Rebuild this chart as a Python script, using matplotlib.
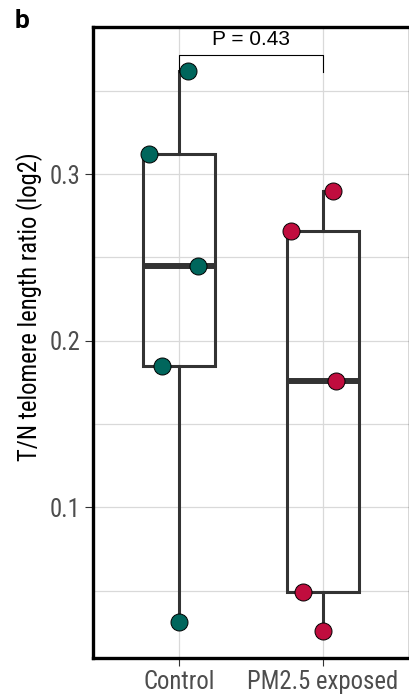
import numpy as np
import matplotlib
matplotlib.use("Agg")
import matplotlib.pyplot as plt
from matplotlib.ticker import MultipleLocator

plt.rcParams['font.family'] = ['Roboto Condensed', 'Liberation Sans Narrow', 'Roboto', 'DejaVu Sans']

# --- data ---
groups = ["Control", "PM2.5 exposed"]
control = [0.362, 0.312, 0.245, 0.185, 0.031]
pm25 = [0.290, 0.266, 0.176, 0.049, 0.026]
control_jitter = [0.06, -0.21, 0.13, -0.12, 0.0]
pm25_jitter = [0.07, -0.22, 0.09, -0.14, 0.0]
colors = ["#00665C", "#C00D3E"]
p_label = "P = 0.43"

fig = plt.figure(figsize=(4.09, 6.98), dpi=100)
ax = fig.add_axes([93 / 409, 1 - 657.7 / 698, 1 - 93 / 409, (657.7 - 26.7) / 698])

# grid like ggplot theme_bw
ax.set_axisbelow(True)
ax.yaxis.set_major_locator(MultipleLocator(0.1))
ax.yaxis.set_minor_locator(MultipleLocator(0.05))
ax.grid(True, which="major", color="#D9D9D9", lw=0.9)
ax.grid(True, which="minor", axis="y", color="#D9D9D9", lw=0.9)

# boxes
box_color = "#333333"
ax.boxplot([control, pm25], positions=[1, 2], widths=0.5, whis=(0, 100),
           showfliers=False, showcaps=False, patch_artist=True,
           boxprops=dict(facecolor="none", edgecolor=box_color, lw=2.2),
           whiskerprops=dict(color=box_color, lw=2.2),
           medianprops=dict(color=box_color, lw=4.3, solid_capstyle="butt"),
           zorder=2)

# points
for i, (vals, jit) in enumerate([(control, control_jitter), (pm25, pm25_jitter)]):
    x = np.array(jit) + i + 1
    ax.scatter(x, vals, s=150, color=colors[i], edgecolor="black", lw=0.7, zorder=3)

# significance bracket
y_br, tip = 0.3714, 0.010
ax.plot([1, 1, 2, 2], [y_br - tip, y_br, y_br, y_br - tip], color="black", lw=0.8, zorder=4)
ax.text(1.5, y_br + 0.0035, p_label, ha="center", va="bottom", fontsize=15,
        family=["Liberation Sans", "DejaVu Sans"], color="black")

ax.set_xlim(0.4, 2.6)
ax.set_ylim(0.0098, 0.3884)
ax.set_xticks([1, 2])
ax.set_xticklabels(groups)
ax.set_yticks([0.1, 0.2, 0.3])
ax.set_yticklabels(["0.1", "0.2", "0.3"])
ax.tick_params(axis="both", which="major", length=6, width=0.8, color="#333333",
               labelsize=17.8, labelcolor="#4D4D4D", pad=3)
ax.tick_params(axis="y", which="minor", length=0)

ax.set_ylabel("T/N telomere length ratio (log2)", fontsize=17.7, color="black")
ax.yaxis.set_label_coords(-0.158, 0.556)

for side in ["left", "bottom", "top"]:
    ax.spines[side].set_linewidth(2.4)
    ax.spines[side].set_color("black")
ax.spines["right"].set_linewidth(1.0)
ax.spines["right"].set_color("#333333")

fig.text(22 / 409, 1 - 21 / 698, "b", fontsize=19, fontweight="bold",
         family=["Roboto", "DejaVu Sans"], ha="center", va="center")

fig.savefig("out.png", dpi=100)
